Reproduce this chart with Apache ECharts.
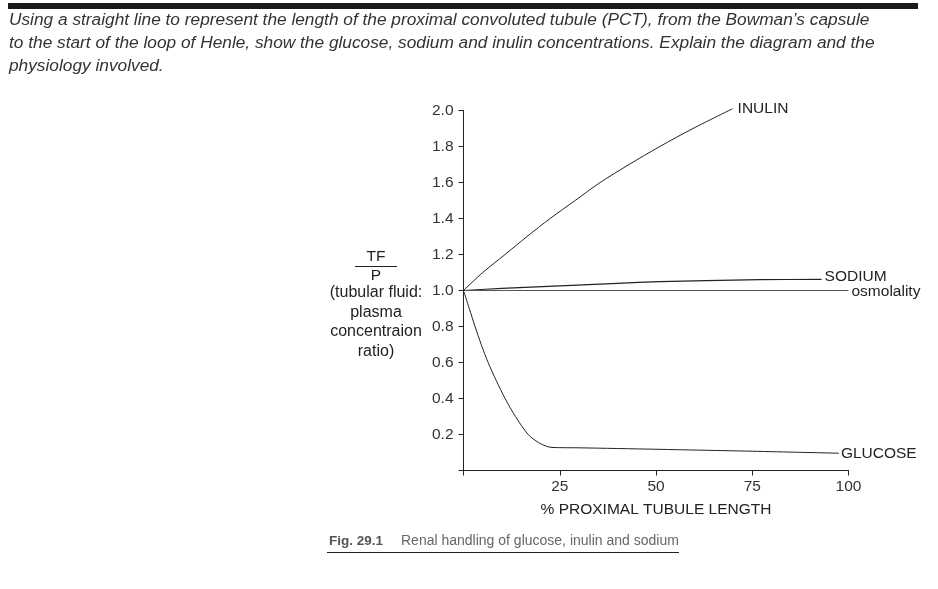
<!DOCTYPE html>
<html>
<head>
<meta charset="utf-8">
<script src="https://cdn.jsdelivr.net/npm/echarts@6/dist/echarts.min.js"></script>
<style>
html,body{margin:0;padding:0;background:#fff;}
#chart{width:938px;height:589px;}
</style>
</head>
<body>
<div id="chart"></div>
<script>
// ---- data ----
var xTicks = [0, 25, 50, 75, 100];
var yTicks = [0, 0.2, 0.4, 0.6, 0.8, 1.0, 1.2, 1.4, 1.6, 1.8, 2.0];
var inulinX = [0, 5, 10.8, 16.5, 22.5, 29, 35.5, 43, 51, 59.6, 69.9];
var inulinY = [1.0, 1.1, 1.2, 1.3, 1.4, 1.5, 1.6, 1.7, 1.8, 1.9, 2.01];
var sodiumX = [0, 10, 25, 40, 51, 63, 77, 93];
var sodiumY = [1.0, 1.012, 1.026, 1.04, 1.049, 1.055, 1.06, 1.062];
var osmoX = [0, 100];
var osmoY = [1.0, 1.0];
var glucoseX = [0, 1.5, 3.0, 4.6, 6.4, 8.5, 10.8, 13.5, 16.8, 19.5, 21.5, 23, 30, 50, 75, 97.5];
var glucoseY = [1.0, 0.9, 0.8, 0.7, 0.6, 0.5, 0.4, 0.3, 0.2, 0.155, 0.135, 0.128, 0.126, 0.118, 0.107, 0.096];
var seriesNames = ['INULIN', 'SODIUM', 'osmolality', 'GLUCOSE'];
var questionLines = [
  'Using a straight line to represent the length of the proximal convoluted tubule (PCT), from the Bowman\u2019s capsule',
  'to the start of the loop of Henle, show the glucose, sodium and inulin concentrations. Explain the diagram and the',
  'physiology involved.'
];
var yNameLines = ['(tubular fluid:', 'plasma', 'concentraion', 'ratio)'];
var xAxisName = '% PROXIMAL TUBULE LENGTH';
var captionBold = 'Fig. 29.1';
var captionText = 'Renal handling of glucose, inulin and sodium';

function zip(xs, ys){ return xs.map(function(x,i){ return [x, ys[i]]; }); }

var FONT = '"Liberation Sans", Arial, Helvetica, sans-serif';
var FS = 15.5;
var chart = echarts.init(document.getElementById('chart'), null, {renderer:'canvas'});

function lineSeries(name, data, lw, color, labelOffset, distance, smooth){
  return {
    name: name, type: 'line', data: data, showSymbol: false, symbol: 'none',
    clip: false, smooth: smooth, animation: false,
    lineStyle: {color: color, width: lw},
    endLabel: {show: true, formatter: name, color: '#222', fontSize: FS,
      fontFamily: FONT, distance: distance, offset: labelOffset}
  };
}

var graphics = [
  {type:'rect', shape:{x:8, y:3, width:910, height:6}, style:{fill:'#1a1a1a'}}
];
questionLines.forEach(function(t, i){
  graphics.push({type:'text', x: 9, y: 20 + i*23,
    style:{text:t, fill:'#333', font:'italic 17.3px ' + FONT, verticalAlign:'middle'}});
});
// y axis name: TF / P fraction
graphics.push({type:'text', x:376, y:257, style:{text:'TF', fill:'#222', font:FS+'px '+FONT, align:'center', verticalAlign:'middle'}});
graphics.push({type:'line', shape:{x1:355, y1:266.5, x2:397, y2:266.5}, style:{stroke:'#222', lineWidth:1}});
graphics.push({type:'text', x:376, y:275.5, style:{text:'P', fill:'#222', font:FS+'px '+FONT, align:'center', verticalAlign:'middle'}});
yNameLines.forEach(function(t, i){
  graphics.push({type:'text', x:376, y:293 + i*19.5, style:{text:t, fill:'#222', font:'16px '+FONT, align:'center', verticalAlign:'middle'}});
});
// caption
graphics.push({type:'text', x:329, y:541.5, style:{text:captionBold, fill:'#555', font:'bold 13.5px '+FONT, verticalAlign:'middle'}});
graphics.push({type:'text', x:401, y:541.5, style:{text:captionText, fill:'#666', font:'14px '+FONT, verticalAlign:'middle'}});
graphics.push({type:'line', shape:{x1:327, y1:552.5, x2:679, y2:552.5}, style:{stroke:'#222', lineWidth:1}});

var option = {
  backgroundColor: '#fff',
  animation: false,
  textStyle: {fontFamily: FONT},
  grid: {left: 463.5, right: 89.5, top: 110.5, bottom: 118.5, containLabel: false},
  xAxis: {
    type: 'value', min: 0, max: 100, interval: 25,
    name: xAxisName, nameLocation: 'middle', nameGap: 31,
    nameTextStyle: {color:'#222', fontSize: FS, fontFamily: FONT},
    axisLine: {show: true, onZero: false, lineStyle: {color:'#222', width:1}},
    axisTick: {show: true, inside: false, length: 5, lineStyle:{color:'#222'}},
    axisLabel: {color:'#333', fontSize: FS, margin: 8, fontFamily: FONT,
      formatter: function(v){ return v === 0 ? '' : String(v); }},
    splitLine: {show: false}
  },
  yAxis: {
    type: 'value', min: 0, max: 2, interval: 0.2,
    axisLine: {show: true, onZero: false, lineStyle: {color:'#222', width:1}},
    axisTick: {show: true, inside: false, length: 5, lineStyle:{color:'#222'}},
    axisLabel: {color:'#333', fontSize: FS, margin: 10, fontFamily: FONT,
      formatter: function(v){ return Math.abs(v) < 1e-9 ? '' : v.toFixed(1); }},
    splitLine: {show: false}
  },
  series: [
    lineSeries(seriesNames[0], zip(inulinX, inulinY), 1, '#222', [0, 0], 5, 0.3),
    lineSeries(seriesNames[1], zip(sodiumX, sodiumY), 1.2, '#222', [0, -3], 3, 0.3),
    lineSeries(seriesNames[2], zip(osmoX, osmoY), 1, '#555', [0, 1], 3, false),
    lineSeries(seriesNames[3], zip(glucoseX, glucoseY), 1, '#222', [0, 0], 2, 0.3)
  ],
  graphic: graphics
};
chart.setOption(option);
</script>
</body>
</html>
